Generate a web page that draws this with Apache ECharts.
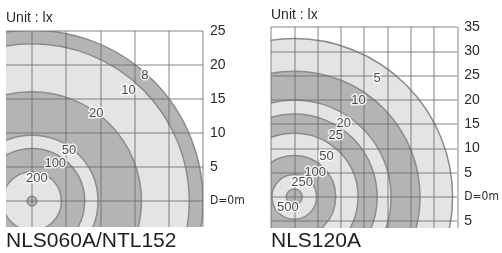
<!DOCTYPE html>
<html>
<head>
<meta charset="utf-8">
<script src="https://cdn.jsdelivr.net/npm/echarts@6/dist/echarts.min.js"></script>
<style>
  html, body { margin: 0; padding: 0; background: #fff; }
  #chart { width: 502px; height: 253px; }
</style>
</head>
<body>
<div id="chart"></div>
<script>
// NLS060A/NTL152 : isolux circles (radius in m, outermost first, last one is the centre dot)
const ringsLeft = [25, 23, 16, 9.65, 7.7, 4.3, 0.7];
const luxLeft = [8, 10, 20, 50, 100, 200];
const labelXLeft = [16.5, 14.1, 9.4, 5.4, 3.4, 0.7];
const labelYLeft = [18.5, 16.3, 12.9, 7.5, 5.5, 3.3];

// NLS120A
const ringsRight = [34, 27, 20.8, 17.8, 13.7, 8.9, 4.8, 1.7];
const luxRight = [5, 10, 20, 25, 50, 100, 250, 500];
const labelXRight = [17.8, 13.8, 10.6, 8.9, 6.9, 4.5, 1.7, -1.4];
const labelYRight = [24.5, 19.8, 15.1, 12.6, 8.4, 5.0, 2.9, -2.2];

const titles = ['NLS060A/NTL152', 'NLS120A'];
const unitText = 'Unit : lx';

const LIGHT = '#e4e4e6';
const DARK = '#b4b4b6';
const EDGE = '#8c8c8c';
const FONT = 'Liberation Sans, Arial, sans-serif';

const chart = echarts.init(document.getElementById('chart'), null, { renderer: 'canvas' });

const yLabel = v => {
  if (Math.abs(v % 5) > 1e-6) return '';
  if (v === 0) return '{d|D=0m}';
  return String(Math.abs(v));
};

const makeAxes = (idx, min, max, yMin, yMax, showMinX) => {
  const line = { show: true, lineStyle: { color: 'rgba(105,105,105,0.55)', width: 1.5 } };
  return {
    x: {
      type: 'value', gridIndex: idx, min, max, minInterval: 5, maxInterval: 5, splitNumber: 8,
      z: 10,
      axisLine: { show: false }, axisTick: { show: false }, axisLabel: { show: false },
      splitLine: Object.assign({ showMinLine: showMinX }, line)
    },
    y: {
      type: 'value', gridIndex: idx, min: yMin, max: yMax, minInterval: 5, maxInterval: 5, splitNumber: 8,
      position: 'right', z: 10,
      axisLine: { show: false }, axisTick: { show: false },
      axisLabel: {
        formatter: yLabel, margin: 7, color: '#2a2a2a', fontSize: 14, fontFamily: FONT,
        showMinLabel: false,
        rich: { d: { fontFamily: 'DejaVu Sans Condensed, Liberation Sans Narrow, sans-serif', fontSize: 12, color: '#2a2a2a' } }
      },
      splitLine: Object.assign({ showMinLine: false }, line)
    }
  };
};

const ringSeries = (idx, rings) => ({
  type: 'custom',
  xAxisIndex: idx,
  yAxisIndex: idx,
  clip: true,
  silent: true,
  z: 2,
  data: rings.map(r => [r]),
  renderItem: (params, api) => {
    const c = api.coord([0, 0]);
    const r = api.size([api.value(0), 0])[0];
    const n = rings.length;
    const fill = (n - 1 - params.dataIndex) % 2 === 0 ? DARK : LIGHT;
    return {
      type: 'circle',
      shape: { cx: c[0], cy: c[1], r },
      style: { fill, stroke: EDGE, lineWidth: 1.5 }
    };
  }
});

const labelSeries = (idx, xs, ys, lux) => ({
  type: 'scatter',
  xAxisIndex: idx,
  yAxisIndex: idx,
  symbolSize: 0,
  silent: true,
  z: 20,
  data: xs.map((x, i) => ({ value: [x, ys[i]], name: String(lux[i]) })),
  label: {
    show: true,
    formatter: p => p.name,
    position: [0, 0],
    align: 'center',
    verticalAlign: 'middle',
    fontSize: 13,
    fontFamily: FONT,
    color: '#1e1e1e',
    textBorderColor: '#fff',
    textBorderWidth: 3
  }
});

const left = makeAxes(0, -3.8, 25, -3.8, 25, false);
const right = makeAxes(1, -5, 35, -6.4, 35, true);

const unitStyle = { fontSize: 14, fontWeight: 'normal', color: '#2a2a2a', fontFamily: FONT };
const nameStyle = { fontSize: 21, fontWeight: 'normal', color: '#1e1e1e', fontFamily: FONT };

chart.setOption({
  animation: false,
  title: [
    { text: unitText, left: 6, top: 11, padding: 0, textStyle: unitStyle },
    { text: unitText, left: 271, top: 8, padding: 0, textStyle: unitStyle },
    { text: titles[0], left: 6, top: 231, padding: 0, textStyle: nameStyle },
    { text: titles[1], left: 271, top: 231, padding: 0, textStyle: nameStyle }
  ],
  grid: [
    { left: 6, top: 31, width: 197, height: 196 },
    { left: 271, top: 27, width: 194, height: 201 }
  ],
  xAxis: [left.x, right.x],
  yAxis: [left.y, right.y],
  series: [
    ringSeries(0, ringsLeft),
    ringSeries(1, ringsRight),
    labelSeries(0, labelXLeft, labelYLeft, luxLeft),
    labelSeries(1, labelXRight, labelYRight, luxRight)
  ]
});
</script>
</body>
</html>
